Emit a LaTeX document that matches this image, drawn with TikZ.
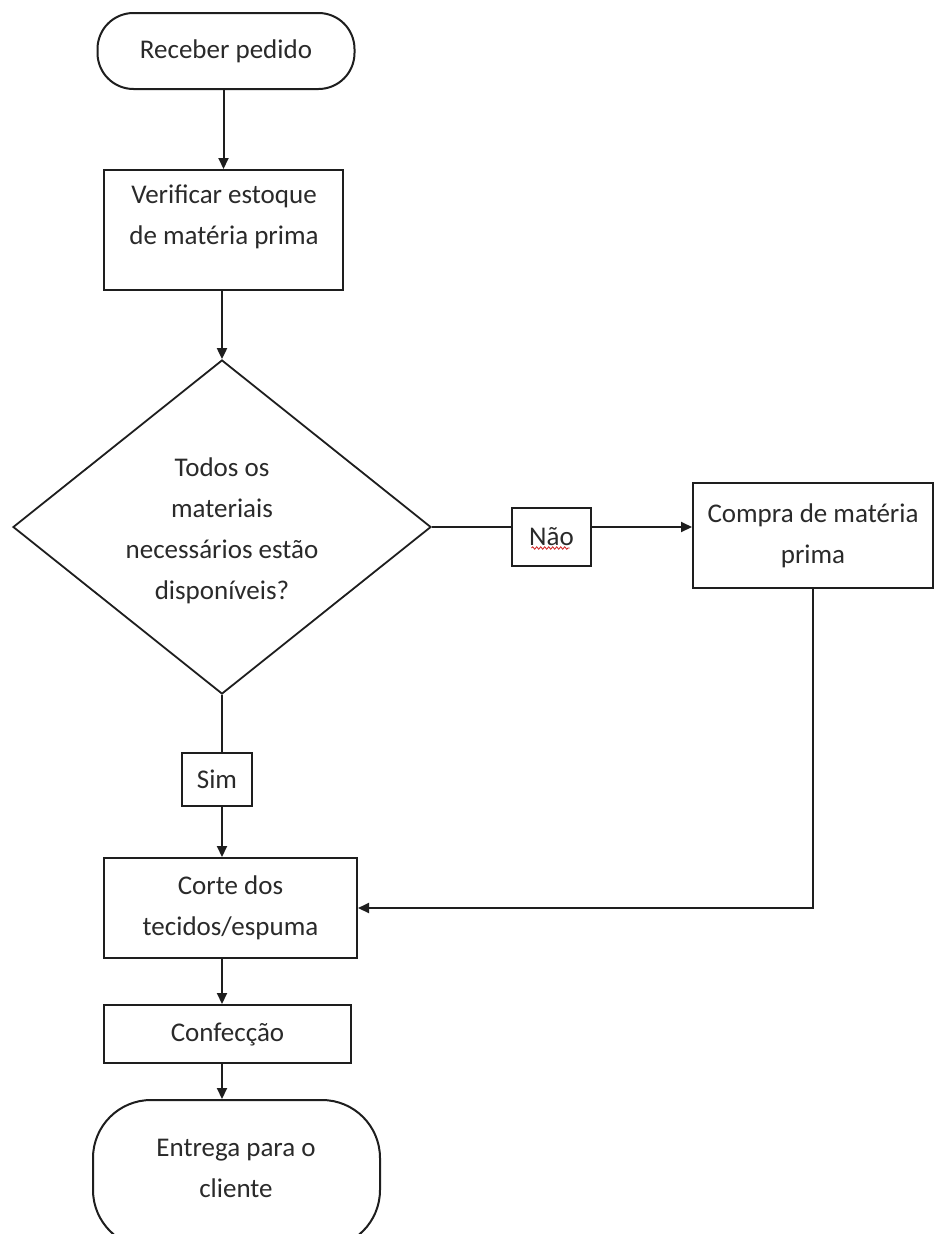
\documentclass[tikz,border=0pt]{standalone}
\usepackage{fontspec}
\setmainfont{Carlito}
\usetikzlibrary{shapes.geometric,arrows.meta,decorations.pathmorphing}
\definecolor{ink}{HTML}{1E1E1E}
\definecolor{txt}{HTML}{2A2A2A}
\definecolor{spell}{HTML}{D02020}
\begin{document}
\begin{tikzpicture}[x=1pt,y=-1pt,
  every node/.style={font=\fontsize{27}{41}\selectfont, text=txt, align=center, inner sep=0pt},
  box/.style={draw=ink, line width=2pt, rectangle},
  term/.style={box, rounded corners=36pt},
  flow/.style={draw=ink, line width=2pt, -{Triangle[length=11pt,width=10pt]}},
  link/.style={draw=ink, line width=2pt}]
\useasboundingbox (0,0) rectangle (935,1234);
\clip (0,0) rectangle (935,1234);
\fill[white] (0,0) rectangle (935,1234);

% process steps
\node[term, minimum width=257pt, minimum height=76pt] (start) at (226,51) {Receber pedido};
\node[box, minimum width=239pt, minimum height=120pt] (verify) at (223.5,230) {};
\node (verifytext) at (224,216.5) {Verificar estoque\\de matéria prima};
\node[draw=ink, line width=1.8pt, diamond, minimum width=418pt, minimum height=334pt] (dec) at (222,527) {};
\node (dectext) at (222,531) {Todos os\\materiais\\necessários estão\\disponíveis?};
\node[box, minimum width=79pt, minimum height=58pt] (nao) at (551.5,537) {Não};
\draw[spell, line width=0.8pt, decorate, decoration={snake, amplitude=1.2pt, segment length=4pt}]
  ([xshift=-20pt,yshift=-11pt]nao.center) -- ([xshift=18pt,yshift=-11pt]nao.center);
\node[box, minimum width=240pt, minimum height=105pt] (buy) at (813,535.5) {Compra de matéria\\prima};
\node[box, minimum width=70pt, minimum height=53pt] (sim) at (217,779.5) {Sim};
\node[box, minimum width=253pt, minimum height=100pt] (cut) at (230.5,908) {Corte dos\\tecidos/espuma};
\node[box, minimum width=247pt, minimum height=58pt] (conf) at (227.5,1034) {Confecção};
\node[box, rounded corners=58pt, minimum width=287pt, minimum height=148pt] (finish) at (236.5,1174) {};
\node (finishtext) at (236,1168) {Entrega para o\\cliente};

% connectors
\draw[flow] (verify.north |- start.south) -- (verify.north);
\draw[flow] (dec.north |- verify.south) -- (dec.north);
\draw[link] (dec.east) -- (dec.east -| nao.west);
\draw[flow] (nao.east |- dec.east) -- (dec.east -| buy.west);
\draw[link] (dec.south) -- (dec.south |- sim.north);
\draw[flow] (dec.south |- sim.south) -- (dec.south |- cut.north);
\draw[flow] (buy.south) |- (cut.east);
\draw[flow] (dec.south |- cut.south) -- (dec.south |- conf.north);
\draw[flow] (dec.south |- conf.south) -- (dec.south |- finish.north);
\end{tikzpicture}
\end{document}
